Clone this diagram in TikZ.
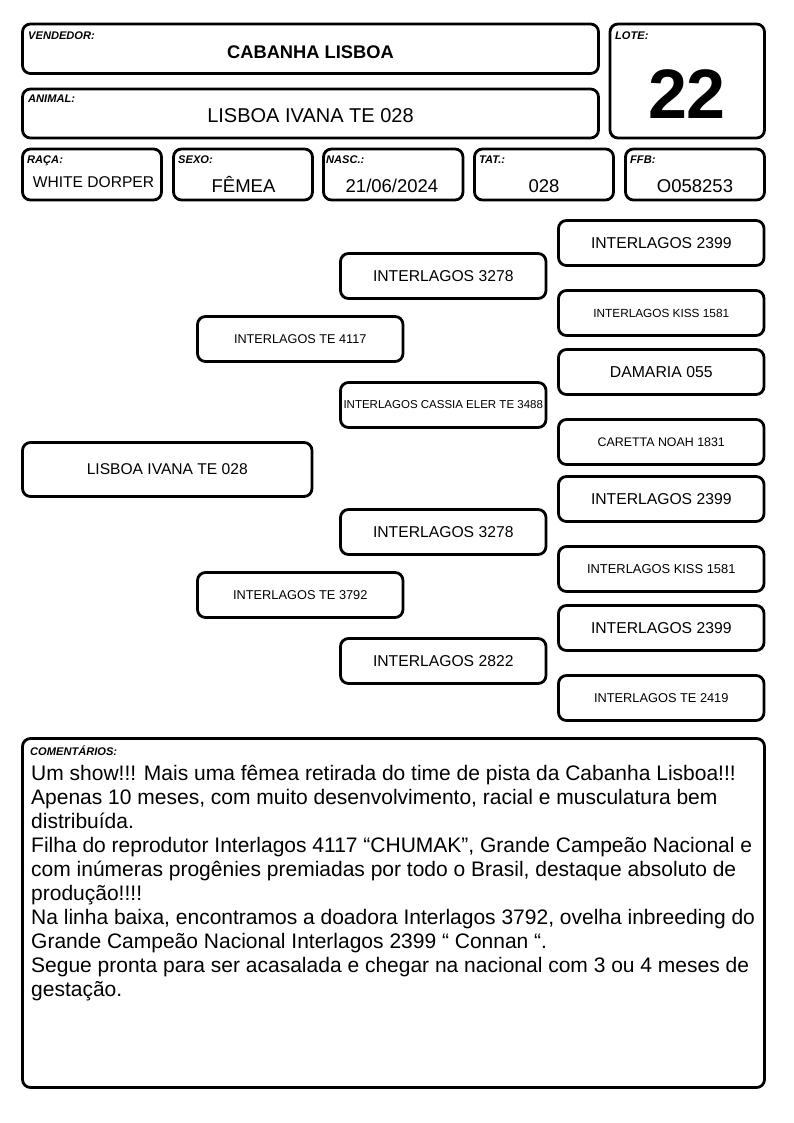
\documentclass[tikz,border=0pt]{standalone}
\usepackage{fontspec}
\setmainfont{Liberation Sans}
\usetikzlibrary{positioning}

\begin{document}
\begin{tikzpicture}[%
    x=1pt,y=-1pt,
    frame/.style={%
      draw,
      line width=2.8pt,
      rounded corners=8pt,
      inner sep=0pt,
      outer sep=0pt,
    },
    tag/.style={%
      anchor=base west,
      inner sep=0pt,
      font=\fontsize{11.1}{12}\selectfont\bfseries\itshape,
    },
    value/.style={anchor=base,inner sep=0pt},
    ancestor/.style={%
      frame,
      minimum width=205.5pt,
      minimum height=45pt,
      align=center,
    },
  ]
  \useasboundingbox (0,0) rectangle (794,1123);

  % header
  \node [frame,minimum width=576pt,minimum height=49.5pt] (vendedor) at (310.5,48.75) {};
  \node [tag] (vendedor tag) at (28,39.5) {VENDEDOR:};
  \node [value,font=\fontsize{18.3}{20}\selectfont\bfseries] (vendedor val) at (310.5,59) {CABANHA LISBOA};

  \node [frame,minimum width=154.5pt,minimum height=114pt] (lote) at (687.25,81) {};
  \node [tag] (lote tag) at (615,39.5) {LOTE:};
  \node [value,font=\fontsize{70}{72}\selectfont\bfseries] (lote val) at (687,119) {22};

  \node [frame,minimum width=576pt,minimum height=49pt] (animal) at (310.5,113.5) {};
  \node [tag] (animal tag) at (28,103) {ANIMAL:};
  \node [value,font=\fontsize{20}{22}\selectfont] (animal val) at (310.5,123) {LISBOA IVANA TE 028};

  \node [frame,minimum width=139pt,minimum height=51pt] (raca) at (92,174.5) {};
  \node [tag] (raca tag) at (27,164) {RAÇA:};
  \node [value,font=\fontsize{15.6}{18}\selectfont] (raca val) at (93.5,188) {WHITE DORPER};

  \node [frame,minimum width=139pt,minimum height=51pt] (sexo) at (243,174.5) {};
  \node [tag] (sexo tag) at (178,164) {SEXO:};
  \node [value,font=\fontsize{18.5}{20}\selectfont] (sexo val) at (243.5,193) {FÊMEA};

  \node [frame,minimum width=139.5pt,minimum height=51pt] (nasc) at (393.25,174.5) {};
  \node [tag] (nasc tag) at (326,164) {NASC.:};
  \node [value,font=\fontsize{18.5}{20}\selectfont] (nasc val) at (392,193) {21/06/2024};

  \node [frame,minimum width=139pt,minimum height=51pt] (tat) at (544,174.5) {};
  \node [tag] (tat tag) at (479,164) {TAT.:};
  \node [value,font=\fontsize{18.5}{20}\selectfont] (tat val) at (544,193) {028};

  \node [frame,minimum width=139pt,minimum height=51pt] (ffb) at (695,174.5) {};
  \node [tag] (ffb tag) at (630,164) {FFB:};
  \node [value,font=\fontsize{18.5}{20}\selectfont] (ffb val) at (695,193) {O058253};

  % pedigree
  \node [ancestor,minimum width=289.5pt,minimum height=54pt,font=\fontsize{15.6}{18}\selectfont] (animal ped) at (167.25,469.5) {LISBOA IVANA TE 028};

  \node [ancestor,font=\fontsize{12.7}{15}\selectfont] (pai) at (300.25,339) {INTERLAGOS TE 4117};
  \node [ancestor,font=\fontsize{12.8}{15}\selectfont] (mae) at (300.25,595) {INTERLAGOS TE 3792};

  \node [ancestor,font=\fontsize{15.7}{18}\selectfont] (avo pp) at (443.25,276) {INTERLAGOS 3278};
  \node [ancestor,font=\fontsize{11.5}{14}\selectfont] (avo pm) at (443.25,405) {INTERLAGOS CASSIA ELER TE 3488};
  \node [ancestor,font=\fontsize{15.7}{18}\selectfont] (avo mp) at (443.25,532) {INTERLAGOS 3278};
  \node [ancestor,font=\fontsize{15.7}{18}\selectfont] (avo mm) at (443.25,661) {INTERLAGOS 2822};

  \node [ancestor,font=\fontsize{15.7}{18}\selectfont] (bis ppp) at (661.25,243) {INTERLAGOS 2399};
  \node [ancestor,font=\fontsize{11.8}{14}\selectfont] (bis ppm) at (661.25,313) {INTERLAGOS KISS 1581};
  \node [ancestor,font=\fontsize{15.8}{18}\selectfont] (bis pmp) at (661.25,372) {DAMARIA 055};
  \node [ancestor,font=\fontsize{12.4}{15}\selectfont] (bis pmm) at (661.25,442) {CARETTA NOAH 1831};
  \node [ancestor,font=\fontsize{15.7}{18}\selectfont] (bis mpp) at (661.25,499) {INTERLAGOS 2399};
  \node [ancestor,font=\fontsize{12.9}{15}\selectfont] (bis mpm) at (661.25,569) {INTERLAGOS KISS 1581};
  \node [ancestor,font=\fontsize{15.7}{18}\selectfont] (bis mmp) at (661.25,628) {INTERLAGOS 2399};
  \node [ancestor,font=\fontsize{12.8}{15}\selectfont] (bis mmm) at (661.25,698) {INTERLAGOS TE 2419};

  % comentarios
  \node [frame,minimum width=742pt,minimum height=349pt] (comentarios) at (393.5,913) {};
  \node [tag] (comentarios tag) at (30,755) {COMENTÁRIOS:};
  \node [%
    anchor=north west,
    inner sep=0pt,
    align=left,
    font=\fontsize{21}{24.1}\selectfont,
  ] (comentarios val) at (31,764.5) {Um show!!! Mais uma fêmea retirada do time de pista da Cabanha Lisboa!!!\\
    Apenas 10 meses, com muito desenvolvimento, racial e musculatura bem\\
    distribuída.\\
    Filha do reprodutor Interlagos 4117 “CHUMAK”, Grande Campeão Nacional e\\
    com inúmeras progênies premiadas por todo o Brasil, destaque absoluto de\\
    produção!!!!\\
    Na linha baixa, encontramos a doadora Interlagos 3792, ovelha inbreeding do\\
    Grande Campeão Nacional Interlagos 2399 “ Connan “.\\
    Segue pronta para ser acasalada e chegar na nacional com 3 ou 4 meses de\\
    gestação.};
\end{tikzpicture}
\end{document}
